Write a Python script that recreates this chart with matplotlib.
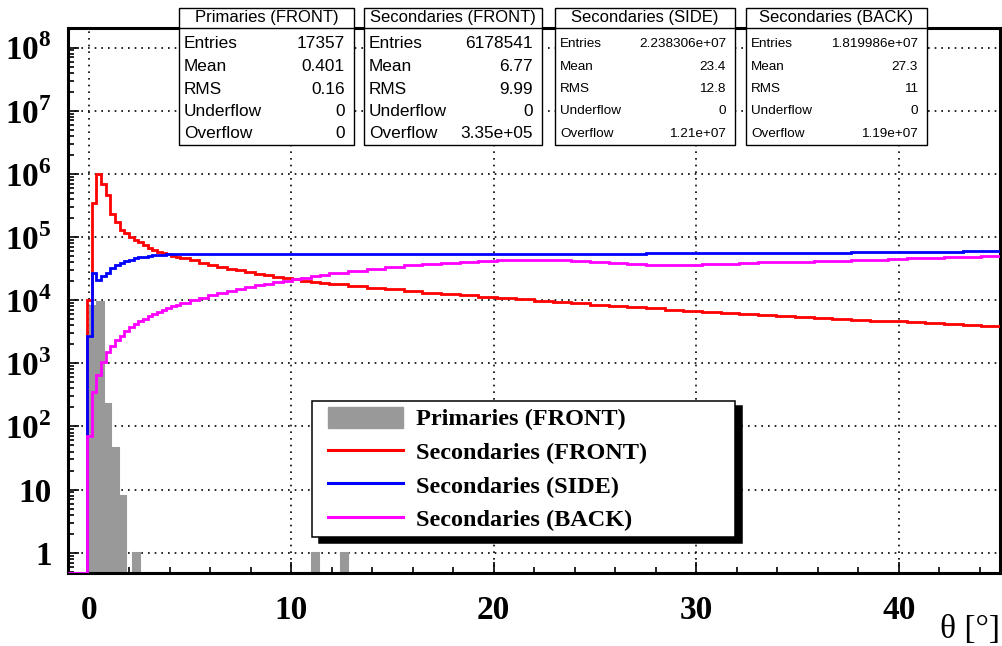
import numpy as np
import matplotlib.pyplot as plt
from matplotlib.patches import Rectangle, Patch
from matplotlib.lines import Line2D
from matplotlib.legend_handler import HandlerLine2D, HandlerPatch
from matplotlib.ticker import MultipleLocator, LogLocator, NullFormatter

plt.rcParams['mathtext.fontset'] = 'custom'
plt.rcParams['mathtext.rm'] = 'Liberation Serif:bold'
plt.rcParams['mathtext.bf'] = 'Liberation Serif:bold'

# ---- data ----
# secondaries: 0.23 deg bins up to 4.52, 0.46 deg bins up to 11.88, 0.92 deg bins up to 45
sec_edges = np.concatenate([-1 + 0.23 * np.arange(25),
                            4.52 + 0.46 * np.arange(1, 17),
                            11.88 + 0.92 * np.arange(1, 37)])

sec_front = [0, 0, 0, 0, 1.0e4, 3.5e5, 1.0e6, 7.0e5, 4.6e5, 2.3e5, 1.7e5, 1.3e5,
             1.17e5, 1.0e5, 9.1e4, 8.3e4, 7.4e4, 6.8e4, 6.2e4, 5.8e4, 5.6e4, 5.3e4, 5.0e4, 4.8e4,
             4.6e4, 4.25e4, 3.9e4, 3.6e4, 3.35e4, 3.15e4, 2.95e4, 2.78e4, 2.62e4, 2.48e4,
             2.35e4, 2.24e4, 2.13e4, 2.03e4, 1.95e4, 1.87e4,
             1.78e4, 1.67e4, 1.57e4, 1.48e4, 1.40e4, 1.32e4, 1.25e4, 1.19e4, 1.13e4, 1.08e4,
             1.03e4, 9.8e3, 9.3e3, 8.9e3, 8.5e3, 8.1e3, 7.7e3, 7.4e3, 7.1e3, 6.8e3, 6.5e3,
             6.25e3, 6.0e3, 5.8e3, 5.6e3, 5.4e3, 5.2e3, 5.05e3, 4.9e3, 4.75e3, 4.6e3, 4.45e3,
             4.3e3, 4.15e3, 4.0e3, 3.85e3]

sec_side = [0, 0, 0, 0, 2.7e3, 2.65e4, 2.1e4, 2.4e4, 2.7e4, 3.2e4, 3.55e4, 3.9e4,
            4.15e4, 4.4e4, 4.6e4, 4.75e4, 4.9e4, 5.0e4, 5.1e4, 5.2e4, 5.25e4, 5.3e4, 5.3e4, 5.35e4,
            5.37e4, 5.38e4, 5.4e4, 5.4e4, 5.4e4, 5.4e4, 5.4e4, 5.4e4, 5.4e4, 5.4e4,
            5.4e4, 5.4e4, 5.4e4, 5.4e4, 5.4e4, 5.4e4,
            5.4e4, 5.4e4, 5.4e4, 5.4e4, 5.4e4, 5.4e4, 5.4e4, 5.4e4, 5.4e4, 5.4e4,
            5.4e4, 5.45e4, 5.45e4, 5.45e4, 5.45e4, 5.45e4, 5.45e4, 5.5e4, 5.5e4, 5.5e4, 5.5e4,
            5.5e4, 5.55e4, 5.55e4, 5.6e4, 5.6e4, 5.65e4, 5.65e4, 5.7e4, 5.7e4, 5.75e4, 5.8e4,
            5.85e4, 5.85e4, 5.9e4, 5.95e4]

sec_back = [0, 0, 0, 0, 70, 350, 650, 1.05e3, 1.5e3, 1.9e3, 2.3e3, 2.75e3,
            3.2e3, 3.7e3, 4.2e3, 4.7e3, 5.0e3, 5.6e3, 6.1e3, 6.6e3, 7.1e3, 7.6e3, 8.0e3, 8.5e3,
            9.1e3, 1.0e4, 1.1e4, 1.2e4, 1.3e4, 1.4e4, 1.5e4, 1.62e4, 1.72e4, 1.83e4,
            1.93e4, 2.03e4, 2.13e4, 2.25e4, 2.37e4, 2.5e4,
            2.7e4, 2.9e4, 3.15e4, 3.35e4, 3.55e4, 3.75e4, 3.9e4, 4.05e4, 4.15e4, 4.25e4,
            4.3e4, 4.3e4, 4.25e4, 4.15e4, 4.0e4, 3.85e4, 3.7e4, 3.6e4, 3.55e4, 3.6e4, 3.7e4,
            3.8e4, 3.9e4, 3.95e4, 4.0e4, 4.05e4, 4.1e4, 4.2e4, 4.3e4, 4.4e4, 4.5e4, 4.6e4,
            4.7e4, 4.8e4, 4.9e4, 5.0e4]

# primaries: 130 bins from -1 to 45 deg, only non-empty bins listed
prim_edges = np.linspace(-1, 45, 131)
prim_bins = [3, 4, 5, 6, 7, 9, 34, 38]
prim_counts = [8.0e3, 9.3e3, 230, 45, 8, 1, 1, 1]

hist_labels = ['Primaries (FRONT)', 'Secondaries (FRONT)', 'Secondaries (SIDE)', 'Secondaries (BACK)']
stat_names = ['Entries', 'Mean', 'RMS', 'Underflow', 'Overflow']
stat_values = [['17357', '0.401', '0.16', '0', '0'],
               ['6178541', '6.77', '9.99', '0', '3.35e+05'],
               ['2.238306e+07', '23.4', '12.8', '0', '1.21e+07'],
               ['1.819986e+07', '27.3', '11', '0', '1.19e+07']]

ytick_vals = [1, 10, 1e2, 1e3, 1e4, 1e5, 1e6, 1e7, 1e8]
ytick_text = ['1', '10', r'$10^{2}$', r'$10^{3}$', r'$10^{4}$', r'$10^{5}$',
              r'$10^{6}$', r'$10^{7}$', r'$10^{8}$']

# ---- figure ----
W, H = 1002, 646
fig = plt.figure(figsize=(W / 100, H / 100), dpi=100)
ax = fig.add_axes([68.4 / W, 1 - 572.7 / H, (1000 - 68.4) / W, (572.7 - 28) / H])
ymin, ymax = 0.483, 2.04e8
ax.set_yscale('log')
ax.set_xlim(-1, 45)
ax.set_ylim(ymin, ymax)

gray = '#999999'
prim = np.zeros(len(prim_edges) - 1)
prim[prim_bins] = prim_counts
ax.stairs(np.where(prim > 0, prim, ymin), prim_edges, fill=True, color=gray, baseline=ymin, zorder=2)
ax.stairs(np.where(prim > 0, prim, ymin), prim_edges, color=gray, lw=1.5, baseline=None, zorder=2)

for vals, col in [(sec_front, '#ff0000'), (sec_side, '#0000ff'), (sec_back, '#ff00ff')]:
    v = np.array(vals, dtype=float)
    ax.stairs(np.where(v > 0, v, ymin), sec_edges, color=col, lw=2.0, baseline=None, zorder=3)

# axes style
ax.set_axisbelow(True)
ax.grid(True, which='major', color='black', linestyle=(0, (1, 3)), lw=1.2)
for s in ax.spines.values():
    s.set_linewidth(2.2)
ax.xaxis.set_major_locator(MultipleLocator(10))
ax.xaxis.set_minor_locator(MultipleLocator(2))
ax.set_yticks(ytick_vals)
ax.set_yticklabels(ytick_text)
ax.yaxis.set_minor_locator(LogLocator(base=10, subs=np.arange(2, 10), numticks=20))
ax.yaxis.set_minor_formatter(NullFormatter())
ax.tick_params(which='both', direction='in', top=False, right=False, width=1.2)
ax.tick_params(which='major', length=8)
ax.tick_params(which='minor', length=4)
ax.tick_params(axis='x', which='major', pad=16)
ax.tick_params(axis='y', which='major', pad=12)
for lab in ax.get_xticklabels() + ax.get_yticklabels():
    lab.set_fontfamily('Liberation Serif')
    lab.set_fontweight('bold')
    lab.set_fontsize(24)

W_ = W


def fx(x):
    return x / W


def fy(y):
    return 1 - y / H


fig.text(fx(1000), fy(630), 'θ [°]', ha='right', va='center',
         fontfamily='Liberation Serif', fontsize=24)

# legend
handles = [Patch(facecolor=gray, edgecolor=gray),
           Line2D([], [], color='#ff0000', lw=2.2),
           Line2D([], [], color='#0000ff', lw=2.2),
           Line2D([], [], color='#ff00ff', lw=2.2)]
hmap = {Patch: HandlerPatch(xpad=0.42), Line2D: HandlerLine2D(xpad=0.42)}
leg = ax.legend(handles, hist_labels, loc='upper left', handler_map=hmap,
                bbox_to_anchor=(fx(312), fy(407), (735 - 312) / W, 0.01),
                bbox_transform=fig.transFigure, mode='expand', borderaxespad=0,
                prop={'family': 'Liberation Serif', 'weight': 'bold', 'size': 17.5},
                fancybox=False, framealpha=1, edgecolor='black',
                handlelength=3.5, handleheight=0.95, handletextpad=0.54,
                labelspacing=0.4, borderpad=0.25,
                shadow={'ox': 5, 'oy': -4, 'color': 'black', 'alpha': 1})
leg.get_frame().set_linewidth(1.1)
leg.set_zorder(10)

# stat boxes
box_left = [179, 364, 555, 746]
box_right = [354, 542, 735, 927]
box_font = [12.4, 12.4, 9.7, 9.7]
row_y = [44, 66.5, 89, 111.3, 133.7]
top_y, title_y, bot_y = 7.5, 28.3, 144.5

for i in range(4):
    x0, x1 = box_left[i], box_right[i]
    fig.patches.append(Rectangle((fx(x0), fy(bot_y)), fx(x1 - x0), (bot_y - top_y) / H,
                                 transform=fig.transFigure, facecolor='white',
                                 edgecolor='black', lw=1.0, zorder=20))
    fig.lines.append(Line2D([fx(x0), fx(x1)], [fy(title_y), fy(title_y)],
                            transform=fig.transFigure, color='black', lw=1.0, zorder=21))
    fig.text(fx((x0 + x1) / 2), fy((top_y + title_y) / 2), hist_labels[i], ha='center', va='center',
             fontfamily='Liberation Sans', fontsize=12, zorder=22)
    for name, val, yy in zip(stat_names, stat_values[i], row_y):
        fig.text(fx(x0 + 5), fy(yy), name, ha='left', va='center',
                 fontfamily='Liberation Sans', fontsize=box_font[i], zorder=22)
        fig.text(fx(x1 - 9), fy(yy), val, ha='right', va='center',
                 fontfamily='Liberation Sans', fontsize=box_font[i], zorder=22)

fig.savefig('out.png', dpi=100)
